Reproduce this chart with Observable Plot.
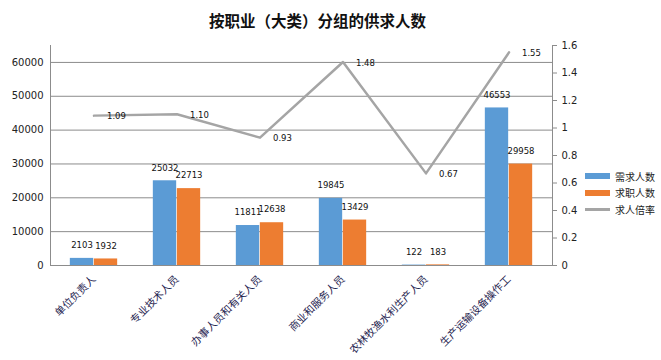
<!DOCTYPE html>
<html>
<head>
<meta charset="utf-8">
<script src="https://cdn.jsdelivr.net/npm/d3@7"></script>
<script src="https://cdn.jsdelivr.net/npm/@observablehq/plot@0.6"></script>
<style>
  html, body { margin: 0; padding: 0; background: #fff; }
  #wrap { position: relative; width: 661px; height: 360px; font-family: "DejaVu Sans", "Noto Sans CJK SC", sans-serif; }
  #title { height: 35px; line-height: 40px; text-align: center; padding-right: 26px; font-size: 15.5px; font-weight: bold; color: #111; font-family: "Noto Sans CJK SC", sans-serif; box-sizing: border-box; }
  #legend { position: absolute; left: 585px; top: 168px; font-size: 10px; color: #222; font-family: "Noto Sans CJK SC", sans-serif; }
  .row { display: flex; align-items: center; height: 16.5px; }
  .sw { width: 25px; height: 6px; margin-right: 5px; }
  .ln { width: 25px; height: 3px; margin-right: 5px; background: #A5A5A5; }
</style>
</head>
<body>
<div id="wrap">
  <div id="title">按职业（大类）分组的供求人数</div>
  <div id="chart"></div>
  <div id="legend"></div>
</div>
<script>
const categories = ["单位负责人", "专业技术人员", "办事人员和有关人员", "商业和服务人员", "农林牧渔水利生产人员", "生产运输设备操作工"];
const demand = [2103, 25032, 11811, 19845, 122, 46553];
const supply = [1932, 22713, 12638, 13429, 183, 29958];
const ratio = [1.09, 1.10, 0.93, 1.48, 0.67, 1.55];
const seriesNames = ["需求人数", "求职人数", "求人倍率"];
const colors = ["#5B9BD5", "#ED7D31", "#A5A5A5"];
const leftTicks = [0, 10000, 20000, 30000, 40000, 50000, 60000];
const rightTicks = [0, 0.2, 0.4, 0.6, 0.8, 1.0, 1.2, 1.4, 1.6];

const leftMax = 65000, rightMax = 1.6;
const k = leftMax / rightMax;

const W = 661, H = 325;
const mL = 50, mR = 109, mT = 10, mB = 95;
const band = (W - mL - mR) / categories.length;
const barW = 24;

const rows = categories.map((c, i) => ({cat: c, demand: demand[i], supply: supply[i], ratio: ratio[i], ratioY: ratio[i] * k}));

const chart = Plot.plot({
  width: W, height: H,
  marginLeft: mL, marginRight: mR, marginTop: mT, marginBottom: mB,
  style: {fontFamily: '"DejaVu Sans", "Noto Sans CJK SC", sans-serif', color: "#222", background: "#fff"},
  x: {type: "band", domain: categories, padding: 0, label: null},
  y: {domain: [0, leftMax], label: null},
  marks: [
    Plot.gridY(leftTicks, {stroke: "#8c8c8c", strokeOpacity: 1, strokeWidth: 1}),
    Plot.frame({anchor: "left", stroke: "#8c8c8c"}),
    Plot.frame({anchor: "right", stroke: "#8c8c8c"}),
    Plot.barY(rows, {x: "cat", y: "demand", fill: colors[0], insetLeft: band / 2 - barW, insetRight: band / 2}),
    Plot.barY(rows, {x: "cat", y: "supply", fill: colors[1], insetLeft: band / 2, insetRight: band / 2 - barW}),
    Plot.ruleY([0], {stroke: "#8c8c8c"}),
    Plot.lineY(rows, {x: "cat", y: "ratioY", stroke: colors[2], strokeWidth: 2.5}),
    Plot.text(rows, {x: "cat", y: "demand", text: d => String(d.demand), dx: -barW / 2, dy: -13, fontSize: 8.5, fill: "#111"}),
    Plot.text(rows, {x: "cat", y: "supply", text: d => String(d.supply), dx: barW / 2, dy: -13, fontSize: 8.5, fill: "#111"}),
    Plot.text(rows, {x: "cat", y: "ratioY", text: d => d.ratio.toFixed(2), dx: 13, dy: 1, textAnchor: "start", fontSize: 8.5, fill: "#111"}),
    Plot.axisY({ticks: leftTicks, tickSize: 0, tickPadding: 7, tickFormat: d3.format("d"), fontSize: 10, label: null}),
    Plot.axisY({anchor: "right", ticks: rightTicks.map(t => t * k), tickSize: 4, tickPadding: 5, stroke: "#8c8c8c", tickFormat: d => String(+(d / k).toFixed(1)), fontSize: 10, label: null}),
    Plot.axisX({tickRotate: -45, tickSize: 0, tickPadding: 12, fontSize: 10.5, label: null, fontFamily: '"Noto Sans CJK SC", sans-serif', fill: "#1f2450"})
  ]
});
document.getElementById("chart").appendChild(chart);

const legend = document.getElementById("legend");
seriesNames.forEach((name, i) => {
  const r = document.createElement("div");
  r.className = "row";
  const s = document.createElement("div");
  s.className = i < 2 ? "sw" : "ln";
  if (i < 2) s.style.background = colors[i];
  const t = document.createElement("span");
  t.textContent = name;
  r.appendChild(s); r.appendChild(t);
  legend.appendChild(r);
});
</script>
</body>
</html>
